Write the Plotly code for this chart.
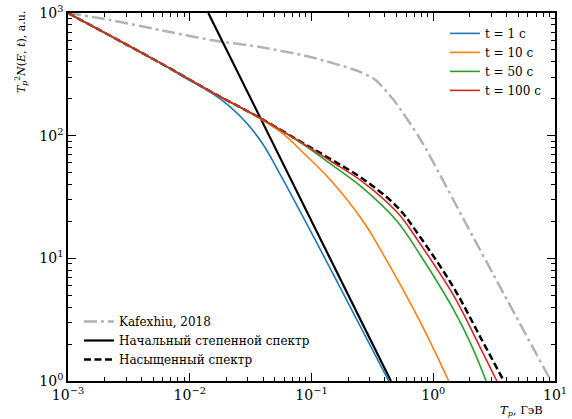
import plotly.graph_objects as go

# ---- data ----
t1_x = [0.001, 0.00571, 0.00836, 0.0156, 0.0215, 0.0297, 0.0403, 0.0556, 0.1186, 0.194, 0.431]
t1_y = [1000, 392, 312, 218, 172, 125, 84.0, 47.9, 11.7, 4.58, 1.0]

t10_x = [0.001, 0.00571, 0.0156, 0.038, 0.0589, 0.0811, 0.1432, 0.268, 0.370, 0.789, 1.34]
t10_y = [1000, 392, 223, 137, 103, 76.4, 43.5, 19.8, 11.7, 2.98, 1.0]

t50_x = [0.001, 0.00571, 0.0156, 0.038, 0.0811, 0.1432, 0.268, 0.510, 0.789, 1.476, 2.04, 2.72]
t50_y = [1000, 392, 223, 139, 88.0, 59.0, 37.0, 19.8, 10.5, 3.79, 2.0, 1.0]

t100_x = [0.001, 0.00571, 0.0156, 0.038, 0.0811, 0.1432, 0.268, 0.510, 0.789, 1.476, 2.46, 3.33]
t100_y = [1000, 392, 223, 139, 88.9, 62.2, 41.5, 23.5, 12.9, 4.94, 1.83, 1.0]

sat_x = [0.001, 0.00571, 0.0156, 0.038, 0.0811, 0.1432, 0.268, 0.510, 0.789, 1.476, 2.46, 3.80]
sat_y = [1000, 392, 223, 139, 89.5, 64.5, 44.0, 26.0, 14.7, 5.74, 2.24, 1.0]

init_x = [0.0142, 0.449]
init_y = [1000, 1]

kaf_x = [0.001, 0.00222, 0.00571, 0.0148, 0.038, 0.0982, 0.253, 0.336, 0.473, 0.789, 1.92, 3.80, 9.27]
kaf_y = [1000, 877, 727, 603, 528, 438, 330, 284, 195, 92.3, 18.0, 5.13, 1.0]

x_tickvals = [1e-3, 1e-2, 1e-1, 1, 10]
x_ticktext = ["10<sup>−3</sup>", "10<sup>−2</sup>", "10<sup>−1</sup>", "10<sup>0</sup>", "10<sup>1</sup>"]
y_tickvals = [1, 10, 100, 1000]
y_ticktext = ["10<sup>0</sup>", "10<sup>1</sup>", "10<sup>2</sup>", "10<sup>3</sup>"]

FONT = "DejaVu Serif"

x_minor = [m * d for d in x_tickvals[:-1] for m in range(2, 10)]
y_minor = [m * d for d in y_tickvals[:-1] for m in range(2, 10)]

fig = go.Figure()

SM = 1.0

# reference curves (bottom legend)
fig.add_trace(go.Scatter(x=kaf_x, y=kaf_y, mode="lines", name="Kafexhiu, 2018",
                         line=dict(color="#b3b3b3", width=2.5, dash="13px,4px,3px,4px", shape="spline", smoothing=0.7),
                         legend="legend2"))
fig.add_trace(go.Scatter(x=init_x, y=init_y, mode="lines", name="Начальный степенной спектр",
                         line=dict(color="black", width=2.2), legend="legend2"))
fig.add_trace(go.Scatter(x=sat_x, y=sat_y, mode="lines", name="Насыщенный спектр",
                         line=dict(color="black", width=2.5, dash="7px,3.5px", shape="spline", smoothing=SM),
                         legend="legend2"))

# time curves (top legend)
for xs, ys, nm, col in [(t1_x, t1_y, "t = 1 c", "#1f77b4"),
                        (t10_x, t10_y, "t = 10 c", "#ff7f0e"),
                        (t50_x, t50_y, "t = 50 c", "#2ca02c"),
                        (t100_x, t100_y, "t = 100 c", "#d62728")]:
    fig.add_trace(go.Scatter(x=xs, y=ys, mode="lines", name=nm,
                             line=dict(color=col, width=1.6, shape="spline", smoothing=SM),
                             legend="legend"))

axis_common = dict(
    type="log", showgrid=False, zeroline=False, automargin=False,
    showline=True, linecolor="black", linewidth=1.6, mirror="allticks",
    ticks="inside", ticklen=8, tickwidth=1.3, tickcolor="black",
    tickfont=dict(family=FONT, size=14, color="black"),
)
minor_common = dict(ticks="inside", ticklen=4, tickwidth=1, tickcolor="black", showgrid=False)

fig.update_layout(
    width=572, height=419, autosize=False,
    margin=dict(l=68, r=17, t=13, b=38, autoexpand=False),
    paper_bgcolor="white", plot_bgcolor="white",
    font=dict(family=FONT, color="black"),
    xaxis=dict(axis_common, range=[-3, 1], tickmode="array", tickvals=x_tickvals, ticktext=x_ticktext,
               minor=dict(minor_common, tickmode="array", tickvals=x_minor)),
    yaxis=dict(axis_common, range=[0, 3], tickmode="array", tickvals=y_tickvals, ticktext=y_ticktext,
               minor=dict(minor_common, tickmode="array", tickvals=y_minor)),
    legend=dict(x=0.774, y=0.984, xanchor="left", yanchor="top", bgcolor="rgba(0,0,0,0)",
                font=dict(family=FONT, size=12, color="black"), tracegroupgap=0),
    legend2=dict(x=0.0225, y=0.019, xanchor="left", yanchor="bottom", bgcolor="rgba(0,0,0,0)",
                 font=dict(family=FONT, size=12, color="black"), tracegroupgap=0),
    annotations=[
        dict(text="<i>T</i><sub><i>p</i></sub><sup>2</sup><i>N</i>(<i>E</i>, <i>t</i>), a.u.",
             xref="paper", yref="paper", x=-0.095, y=1.01, xanchor="center", yanchor="top",
             textangle=-90, showarrow=False, font=dict(family=FONT, size=11, color="black")),
        dict(text="<i>T</i><sub><i>p</i></sub>, ГэВ",
             xref="paper", yref="paper", x=0.979, y=-0.0815, xanchor="right", yanchor="middle",
             showarrow=False, font=dict(family=FONT, size=11.5, color="black")),
    ],
)

fig.write_html("out.html", config={"displayModeBar": False},
               post_script="document.body.style.margin='0';document.body.style.overflow='hidden';")
